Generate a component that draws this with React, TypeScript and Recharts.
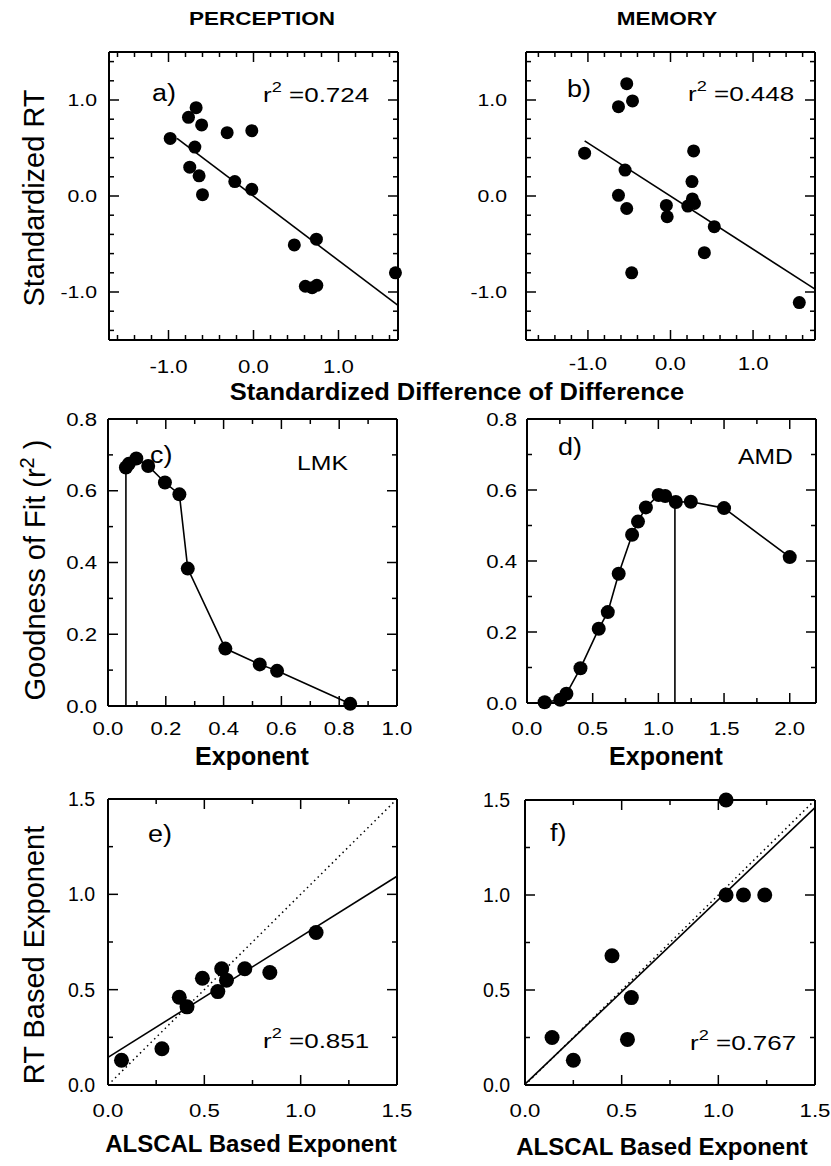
import React from 'react';
import { ScatterChart, Scatter, XAxis, YAxis } from 'recharts';

const FONT = '"Liberation Sans", Arial, Helvetica, sans-serif';

// a) perception: standardized difference of difference vs standardized RT
const percDiff = [-0.98, -0.675, -0.765, -0.61, -0.69, -0.75, -0.64, -0.6, -0.31, -0.02, -0.22, -0.02, 0.48, 0.74, 0.61, 0.69, 0.745, 1.67];
const percRT = [0.6, 0.92, 0.82, 0.74, 0.51, 0.3, 0.21, 0.014, 0.66, 0.68, 0.15, 0.07, -0.51, -0.45, -0.94, -0.955, -0.93, -0.8];
const percFitX = [-0.9, 1.7];
const percFitY = [0.6, -1.14];

// b) memory
const memDiff = [-1.04, -0.53, -0.63, -0.46, -0.55, -0.63, -0.53, -0.47, -0.05, -0.04, 0.28, 0.26, 0.21, 0.265, 0.29, 0.53, 0.41, 1.56];
const memRT = [0.446, 1.17, 0.93, 0.99, 0.27, 0.007, -0.13, -0.8, -0.098, -0.216, 0.47, 0.15, -0.105, -0.03, -0.077, -0.32, -0.59, -1.11];
const memFitX = [-1.04, 1.75];
const memFitY = [0.575, -0.97];

// c) goodness of fit by exponent, LMK
const lmkExp = [0.062, 0.072, 0.098, 0.139, 0.197, 0.247, 0.276, 0.406, 0.525, 0.585, 0.838];
const lmkFit = [0.665, 0.675, 0.69, 0.669, 0.623, 0.59, 0.383, 0.16, 0.116, 0.098, 0.006];
const lmkBestX = [0.062, 0.062];
const lmkBestY = [0, 0.665];

// d) goodness of fit by exponent, AMD
const amdExp = [0.134, 0.253, 0.3, 0.407, 0.546, 0.615, 0.698, 0.8, 0.845, 0.905, 1.002, 1.052, 1.133, 1.247, 1.5, 2.0];
const amdFit = [0.002, 0.009, 0.026, 0.098, 0.209, 0.256, 0.364, 0.474, 0.511, 0.551, 0.586, 0.583, 0.566, 0.567, 0.549, 0.411];
const amdBestX = [1.126, 1.126];
const amdBestY = [0, 0.566];

// e) / f) RT based vs ALSCAL based exponent
const percAlscal = [0.07, 0.28, 0.37, 0.41, 0.49, 0.57, 0.59, 0.615, 0.71, 0.84, 1.08];
const percRtExp = [0.13, 0.19, 0.46, 0.41, 0.56, 0.49, 0.61, 0.55, 0.61, 0.59, 0.8];
const percRegX = [0, 1.5];
const percRegY = [0.145, 1.095];

const memAlscal = [0.14, 0.25, 0.45, 0.55, 0.53, 1.04, 1.04, 1.13, 1.24];
const memRtExp = [0.25, 0.13, 0.68, 0.46, 0.24, 1.5, 1.0, 1.0, 1.0];
const memRegX = [0, 1.5];
const memRegY = [0.005, 1.46];

const identityX = [0, 1.5];
const identityY = [0, 1.5];

// ticks
const stdTicks = [-1.6, -1.4, -1.2, -1.0, -0.8, -0.6, -0.4, -0.2, 0, 0.2, 0.4, 0.6, 0.8, 1.0, 1.2, 1.4, 1.6];
const stdYTicks = [-1.4, -1.2, -1.0, -0.8, -0.6, -0.4, -0.2, 0, 0.2, 0.4, 0.6, 0.8, 1.0, 1.2, 1.4];
const stdLabels = [-1, 0, 1];
const fitYTicks = [0, 0.1, 0.2, 0.3, 0.4, 0.5, 0.6, 0.7, 0.8];
const fitYLabels = [0, 0.2, 0.4, 0.6, 0.8];
const lmkXTicks = [0, 0.1, 0.2, 0.3, 0.4, 0.5, 0.6, 0.7, 0.8, 0.9, 1.0];
const lmkXLabels = [0, 0.2, 0.4, 0.6, 0.8, 1.0];
const amdXTicks = [0, 0.25, 0.5, 0.75, 1.0, 1.25, 1.5, 1.75, 2.0];
const amdXLabels = [0, 0.5, 1.0, 1.5, 2.0];
const expTicks = [0, 0.25, 0.5, 0.75, 1.0, 1.25, 1.5];
const expLabels = [0, 0.5, 1.0, 1.5];

const pts = (xs: number[], ys: number[]) => xs.map((x, i) => ({ x, y: ys[i] }));

const dot = (r: number) => (p: any) => <circle cx={p.cx} cy={p.cy} r={r} fill="#000" />;
const noDot = () => <g />;
const solid = { stroke: '#000', strokeWidth: 1.6 };
const dotted = { stroke: '#000', strokeWidth: 1.5, strokeDasharray: '1.5 3.5' };

const AxisTick = (props: any) => {
  const { x, y, payload, tSide, tMajor, tGap = 0, tFont = 18, tSx = 1 } = props;
  const v = payload.value;
  const major = tMajor.some((m: number) => Math.abs(m - v) < 1e-6);
  const len = major ? 10 : 5;
  const s = { stroke: '#000', strokeWidth: 1.5 };
  const txt = (tx: number, ty: number, anchor: string) => (
    <text transform={`translate(${tx} ${ty}) scale(${tSx} 1)`} textAnchor={anchor} fontSize={tFont} fontFamily={FONT} fill="#000">
      {v.toFixed(1)}
    </text>
  );
  if (tSide === 'bottom') {
    return (
      <g>
        <line x1={x} y1={y} x2={x} y2={y - len} {...s} />
        {major && txt(x, y + tGap, 'middle')}
      </g>
    );
  }
  if (tSide === 'top') return <line x1={x} y1={y} x2={x} y2={y + len} {...s} />;
  if (tSide === 'left') {
    return (
      <g>
        <line x1={x} y1={y} x2={x + len} y2={y} {...s} />
        {major && txt(x - tGap, y + tFont * 0.36, 'end')}
      </g>
    );
  }
  return <line x1={x} y1={y} x2={x - len} y2={y} {...s} />;
};

type Box = { left: number; top: number; w: number; h: number };

function Panel(props: {
  box: Box; xDomain: number[]; yDomain: number[];
  xTicks: number[]; yTicks: number[]; xMajor: number[]; yMajor: number[];
  yGap: number; xDrop: number; yFont: number; ySx: number; children: React.ReactNode;
}) {
  const { box, xDomain, yDomain, xTicks, yTicks, xMajor, yMajor, yGap, xDrop, yFont, ySx, children } = props;
  // outer space around the plot area; each axis takes 1px of it
  const ML = 75, MR = 15, MT = 15, MB = 45;
  const axisLine = { stroke: '#000', strokeWidth: 2 };
  return (
    <div style={{ position: 'absolute', left: box.left - ML, top: box.top - MT }}>
      <ScatterChart width={box.w + ML + MR} height={box.h + MT + MB}
        margin={{ top: MT - 1, right: MR - 1, bottom: MB - 1, left: ML - 1 }}>
        <XAxis type="number" dataKey="x" domain={xDomain} ticks={xTicks} interval={0} height={1}
          tickSize={0} tickMargin={0} tickLine={false} axisLine={axisLine}
          tick={<AxisTick tSide="bottom" tMajor={xMajor} tGap={xDrop} tFont={18.5} tSx={1.2} />} />
        <XAxis xAxisId="t" orientation="top" type="number" dataKey="x" domain={xDomain} ticks={xTicks} interval={0}
          height={1} allowDataOverflow tickSize={0} tickMargin={0} tickLine={false} axisLine={axisLine}
          tick={<AxisTick tSide="top" tMajor={xMajor} />} />
        <YAxis type="number" dataKey="y" domain={yDomain} ticks={yTicks} interval={0} width={1}
          tickSize={0} tickMargin={0} tickLine={false} axisLine={axisLine}
          tick={<AxisTick tSide="left" tMajor={yMajor} tGap={yGap} tFont={yFont} tSx={ySx} />} />
        <YAxis yAxisId="r" orientation="right" type="number" dataKey="y" domain={yDomain} ticks={yTicks} interval={0}
          width={1} allowDataOverflow tickSize={0} tickMargin={0} tickLine={false} axisLine={axisLine}
          tick={<AxisTick tSide="right" tMajor={yMajor} />} />
        {children}
      </ScatterChart>
    </div>
  );
}

const T = (p: { x: number; y: number; size: number; sx?: number; bold?: boolean; anchor?: string; rotate?: number; children: React.ReactNode }) => (
  <text
    transform={`translate(${p.x} ${p.y})${p.rotate ? ` rotate(${p.rotate})` : ''} scale(${p.sx ?? 1} 1)`}
    fontSize={p.size} fontWeight={p.bold ? 700 : 400} textAnchor={p.anchor ?? 'start'}
    fontFamily={FONT} fill="#000" style={{ whiteSpace: 'pre' }}
  >
    {p.children}
  </text>
);

const R2 = ({ x, y, value }: { x: number; y: number; value: string }) => (
  <T x={x} y={y} size={20} sx={1.3}>
    r<tspan dy={-10} fontSize={14}>2</tspan><tspan dy={10}>{` =${value}`}</tspan>
  </T>
);

export default function App() {
  return (
    <div style={{ position: 'absolute', left: 0, top: 0, width: 831, height: 1166, background: '#fff', fontFamily: FONT }}>
      <Panel box={{ left: 109, top: 52, w: 289, h: 288 }} xDomain={[-1.7, 1.7]} yDomain={[-1.5, 1.5]}
        xTicks={stdTicks} yTicks={stdYTicks} xMajor={stdLabels} yMajor={stdLabels} yGap={12} xDrop={33} yFont={17} ySx={1.25}>
        <Scatter data={pts(percFitX, percFitY)} line={solid} shape={noDot} isAnimationActive={false} />
        <Scatter data={pts(percDiff, percRT)} shape={dot(6.5)} isAnimationActive={false} />
      </Panel>
      <Panel box={{ left: 526, top: 52, w: 289, h: 288 }} xDomain={[-1.75, 1.75]} yDomain={[-1.5, 1.5]}
        xTicks={stdTicks} yTicks={stdYTicks} xMajor={stdLabels} yMajor={stdLabels} yGap={19} xDrop={30} yFont={17} ySx={1.25}>
        <Scatter data={pts(memFitX, memFitY)} line={solid} shape={noDot} isAnimationActive={false} />
        <Scatter data={pts(memDiff, memRT)} shape={dot(6.5)} isAnimationActive={false} />
      </Panel>
      <Panel box={{ left: 108, top: 419, w: 289, h: 287 }} xDomain={[0, 1]} yDomain={[0, 0.8]}
        xTicks={lmkXTicks} yTicks={fitYTicks} xMajor={lmkXLabels} yMajor={fitYLabels} yGap={11} xDrop={29} yFont={18.5} ySx={1.2}>
        <Scatter data={pts(lmkBestX, lmkBestY)} line={solid} shape={noDot} isAnimationActive={false} />
        <Scatter data={pts(lmkExp, lmkFit)} line={solid} shape={dot(7)} isAnimationActive={false} />
      </Panel>
      <Panel box={{ left: 527, top: 419, w: 289, h: 284 }} xDomain={[0, 2.2]} yDomain={[0, 0.8]}
        xTicks={amdXTicks} yTicks={fitYTicks} xMajor={amdXLabels} yMajor={fitYLabels} yGap={10} xDrop={32} yFont={18.5} ySx={1.2}>
        <Scatter data={pts(amdBestX, amdBestY)} line={solid} shape={noDot} isAnimationActive={false} />
        <Scatter data={pts(amdExp, amdFit)} line={solid} shape={dot(7)} isAnimationActive={false} />
      </Panel>
      <Panel box={{ left: 108, top: 799, w: 289, h: 286 }} xDomain={[0, 1.5]} yDomain={[0, 1.5]}
        xTicks={expTicks} yTicks={expTicks} xMajor={expLabels} yMajor={expLabels} yGap={13} xDrop={32} yFont={19.5} ySx={1}>
        <Scatter data={pts(identityX, identityY)} line={dotted} shape={noDot} isAnimationActive={false} />
        <Scatter data={pts(percRegX, percRegY)} line={solid} shape={noDot} isAnimationActive={false} />
        <Scatter data={pts(percAlscal, percRtExp)} shape={dot(7.5)} isAnimationActive={false} />
      </Panel>
      <Panel box={{ left: 525, top: 800, w: 290, h: 285 }} xDomain={[0, 1.5]} yDomain={[0, 1.5]}
        xTicks={expTicks} yTicks={expTicks} xMajor={expLabels} yMajor={expLabels} yGap={15} xDrop={32} yFont={19.5} ySx={1}>
        <Scatter data={pts(identityX, identityY)} line={dotted} shape={noDot} isAnimationActive={false} />
        <Scatter data={pts(memRegX, memRegY)} line={solid} shape={noDot} isAnimationActive={false} />
        <Scatter data={pts(memAlscal, memRtExp)} shape={dot(7.5)} isAnimationActive={false} />
      </Panel>

      <svg width={831} height={1166} style={{ position: 'absolute', left: 0, top: 0, pointerEvents: 'none' }}>
        <T x={262} y={25} size={18} sx={1.25} bold anchor="middle">PERCEPTION</T>
        <T x={667} y={25} size={18} sx={1.25} bold anchor="middle">MEMORY</T>

        <T x={44} y={198} size={29} anchor="middle" rotate={-90}>Standardized RT</T>
        <T x={45} y={570} size={29} anchor="middle" rotate={-90}>
          Goodness of Fit (r<tspan dy={-11} fontSize={20}>2</tspan><tspan dy={11}> )</tspan>
        </T>
        <T x={44} y={955} size={29} anchor="middle" rotate={-90}>RT Based Exponent</T>

        <T x={457} y={400} size={24.5} sx={1.04} bold anchor="middle">Standardized Difference of Difference</T>
        <T x={252} y={765} size={25} bold anchor="middle">Exponent</T>
        <T x={666} y={765} size={25} bold anchor="middle">Exponent</T>
        <T x={251} y={1152} size={24} bold anchor="middle">ALSCAL Based Exponent</T>
        <T x={662} y={1155} size={24} bold anchor="middle">ALSCAL Based Exponent</T>

        <T x={152} y={101} size={24.5} sx={1.1}>a)</T>
        <T x={567} y={97} size={24.5} sx={1.1}>b)</T>
        <T x={150} y={463} size={24.5} sx={1.1}>c)</T>
        <T x={558} y={455} size={24.5} sx={1.1}>d)</T>
        <T x={148} y={842} size={24.5} sx={1.1}>e)</T>
        <T x={550} y={841} size={24.5} sx={1.1}>f)</T>

        <R2 x={263} y={102} value="0.724" />
        <R2 x={688} y={101} value="0.448" />
        <R2 x={263} y={1048} value="0.851" />
        <R2 x={690} y={1050} value="0.767" />

        <T x={297} y={470} size={21} sx={1.18}>LMK</T>
        <T x={738} y={464} size={22} sx={1.12}>AMD</T>
      </svg>
    </div>
  );
}
